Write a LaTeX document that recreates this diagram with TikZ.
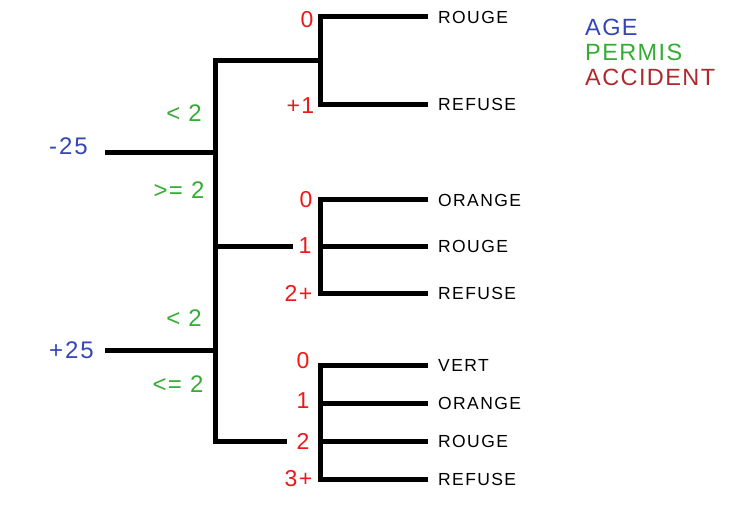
\documentclass[tikz,border=0pt]{standalone}
\usepackage{fontspec}
\setmainfont{Liberation Sans}
\usetikzlibrary{calc}
\definecolor{ageblue}{RGB}{52,70,180}
\definecolor{permgreen}{RGB}{52,172,52}
\definecolor{accred}{RGB}{238,24,24}
\definecolor{legred}{RGB}{176,40,44}
\begin{document}
\begin{tikzpicture}[x=1pt,y=-1pt,
  branch/.style={line width=5pt, line join=miter, line cap=butt},
  agelab/.style={text=ageblue, inner sep=0pt, font=\fontsize{24}{24}\selectfont\addfontfeatures{LetterSpace=8}},
  permlab/.style={text=permgreen, inner sep=0pt, font=\fontsize{24}{24}\selectfont\addfontfeatures{LetterSpace=6}},
  acclab/.style={text=accred, inner sep=0pt, font=\fontsize{23}{23}\selectfont\addfontfeatures{LetterSpace=6}},
  leaflab/.style={anchor=west, inner sep=0pt, font=\fontsize{17.5}{17.5}\selectfont\addfontfeatures{LetterSpace=8}},
  legendlab/.style={anchor=west, inner sep=0pt, font=\fontsize{23.5}{23.5}\selectfont\addfontfeatures{LetterSpace=6}}
]
\useasboundingbox (0,0) rectangle (750,512);

% legend
\node[legendlab, text=ageblue]   (lgage)  at (585,27) {AGE};
\node[legendlab, text=permgreen] (lgperm) at (585,52) {PERMIS};
\node[legendlab, text=legred]    (lgacc)  at (585,77) {ACCIDENT};

% AGE labels
\node[agelab] (am25) at (68.5,146) {-25};
\node[agelab] (ap25) at (71.5,350.5) {+25};

% PERMIS labels
\node[permlab] (p1) at (184,113) {< 2};
\node[permlab] (p2) at (179,190.5) {>= 2};
\node[permlab] (p3) at (184,318) {< 2};
\node[permlab] (p4) at (178,384) {<= 2};

% ACCIDENT labels
\node[acclab] (r11) at (307,20) {0};
\node[acclab] (r12) at (300.5,106) {+1};
\node[acclab] (r21) at (306,200) {0};
\node[acclab, inner xsep=5pt] (r22) at (305,246) {1};
\node[acclab] (r23) at (298.5,293) {2+};
\node[acclab] (r31) at (303,361) {0};
\node[acclab] (r32) at (303,401) {1};
\node[acclab, inner xsep=9pt] (r33) at (303,441) {2};
\node[acclab] (r34) at (298.5,479) {3+};

% leaf labels
\node[leaflab] (l11) at (438,17) {ROUGE};
\node[leaflab] (l12) at (438,104) {REFUSE};
\node[leaflab] (l21) at (438,200) {ORANGE};
\node[leaflab] (l22) at (438,246) {ROUGE};
\node[leaflab] (l23) at (438,293) {REFUSE};
\node[leaflab] (l31) at (438,365) {VERT};
\node[leaflab] (l32) at (438,403) {ORANGE};
\node[leaflab] (l33) at (438,441) {ROUGE};
\node[leaflab] (l34) at (438,479) {REFUSE};

% junction points
\coordinate (s1) at (105,152);
\coordinate (j1) at (215,152);
\coordinate (s2) at (105,350);
\coordinate (j2) at (215,350);
\coordinate (t1) at (215,60);
\coordinate (t2) at (215,246);
\coordinate (t3) at (215,441);
\coordinate (g1) at (320,60);
\coordinate (g2) at (320,246);
\coordinate (g3) at (320,441);
\coordinate (e11) at (428,16);
\coordinate (e12) at (428,104);
\coordinate (e21) at (428,199);
\coordinate (e22) at (428,246);
\coordinate (e23) at (428,293);
\coordinate (e31) at (428,365);
\coordinate (e32) at (428,403);
\coordinate (e33) at (428,441);
\coordinate (e34) at (428,479);

% stems
\draw[branch] (s1) -- (j1);
\draw[branch] (s2) -- (j2);
% trunk
\draw[branch] (g1) -- (t1) -- (t3) -- (r33.west);
\draw[branch] (t2) -- (r22.west);
% brackets
\draw[branch] (e11) -| (g1) |- (e12);
\draw[branch] (e21) -| (g2) |- (e23);
\draw[branch] (g2) -- (e22);
\draw[branch] (e31) -| (g3) |- (e34);
\draw[branch] (g3 |- e32) -- (e32);
\draw[branch] (g3) -- (e33);
\end{tikzpicture}
\end{document}
